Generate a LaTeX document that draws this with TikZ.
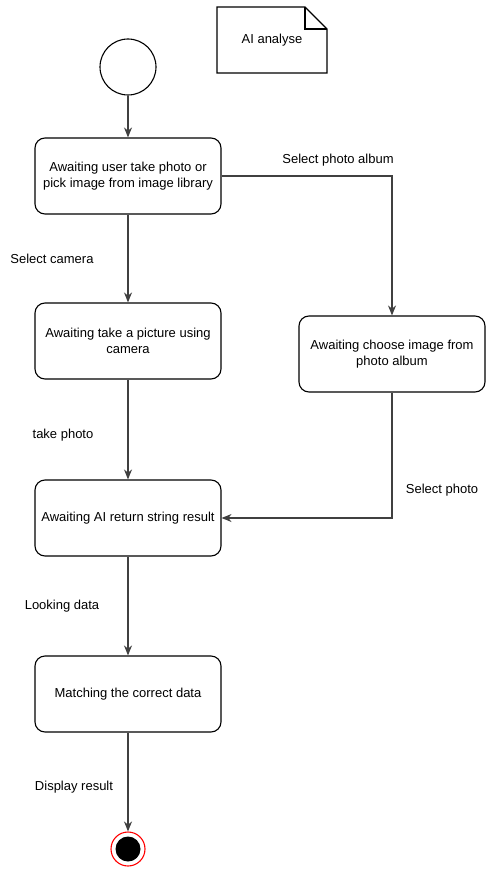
\documentclass[tikz,border=0pt]{standalone}
\usepackage{fontspec}
\setmainfont{Liberation Sans}
\usetikzlibrary{arrows.meta,positioning,shapes.misc}

\begin{document}
\begin{tikzpicture}[x=1pt,y=-1pt,font=\fontsize{13}{15.5}\selectfont,
state/.style={draw,line width=1.1pt,rounded corners=10pt,align=center,minimum height=76pt,minimum width=186pt,inner sep=2pt},
arr/.style={-{Stealth[length=10pt,width=8pt]},draw=black!75,line width=1.1pt},
lbl/.style={inner sep=1pt}]
\useasboundingbox (0,0) rectangle (498,874);
% note
\draw[line width=1.1pt] (217,7) -- (305,7) -- (327,29) -- (327,73) -- (217,73) -- cycle;
\draw[line width=1.1pt] (305,7) -- (305,29) -- (327,29);
\node (note) at (272,40) {AI analyse};
% start and end
\node[draw,circle,minimum size=56pt,inner sep=0pt,line width=1.1pt] (start) at (128,67) {};
\node[draw=red,circle,minimum size=34pt,inner sep=0pt,line width=1.1pt,fill=white] (finish) at (128,849) {};
\node[circle,fill=black,minimum size=25pt,inner sep=0pt] (finishdot) at (128,849) {};
% states
\node[state] (pick) at (128,176) {Awaiting user take photo or\\pick image from image library};
\node[state] (camera) at (128,341) {Awaiting take a picture using\\camera};
\node[state] (album) at (392,354) {Awaiting choose image from\\photo album};
\node[state] (result) at (128,518) {Awaiting AI return string result};
\node[state] (match) at (128,694) {Matching the correct data};
% transitions
\draw[arr](start)--(pick);
\draw[arr](pick)--(camera);
\draw[arr](pick.east)-|(album.north);
\draw[arr](camera)--(result);
\draw[arr](album.south)|-(result.east);
\draw[arr](result)--(match);
\draw[arr](match)--(finish);
% labels
\node[lbl] at (52,259) {Select camera};
\node[lbl] at (338,160) {Select photo album};
\node[lbl] at (63,435) {take photo};
\node[lbl] at (442,490) {Select photo};
\node[lbl] at (62,606) {Looking data};
\node[lbl] at (74,787) {Display result};
\end{tikzpicture}
\end{document}
